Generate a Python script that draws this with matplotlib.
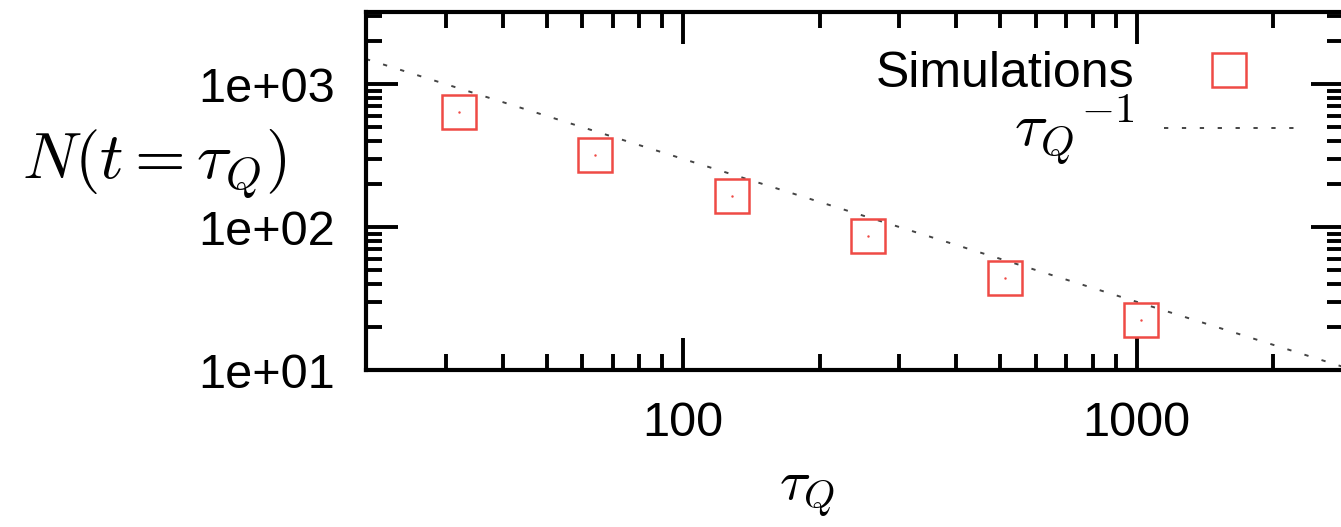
import matplotlib
matplotlib.use("Agg")
import matplotlib.pyplot as plt
from matplotlib.ticker import FixedLocator, FixedFormatter, NullFormatter, LogLocator

# ---- data ----
tau_q = [32, 64, 128, 256, 512, 1024]
n_sim = [640, 320, 165, 86, 44, 22.5]
guide_x = [20, 3000]
guide_y = [1500, 10]
yticks = [10, 100, 1000]
ytick_labels = ["1e+01", "1e+02", "1e+03"]
xticks = [100, 1000]
xtick_labels = ["100", "1000"]

plt.rcParams["font.family"] = ["Liberation Sans", "DejaVu Sans"]
plt.rcParams["mathtext.fontset"] = "cm"

W, H = 1341, 527
fig = plt.figure(figsize=(W / 100, H / 100), dpi=100)
left, right, bottom, top = 366, 1343, 370, 12
ax = fig.add_axes([left / W, 1 - bottom / H, (right - left) / W, (bottom - top) / H])
ax.set_xscale("log")
ax.set_yscale("log")
ax.set_xlim(20, 2850)
ax.set_ylim(10, 3200)

red = "#ef4a45"
ax.plot(guide_x, guide_y, color="#444444", lw=1.4, ls=(0, (2.2, 7.0)),
        label=r"$\tau_Q{}^{-1}$", zorder=2)
ax.plot(tau_q, n_sim, ls="none", marker="s", ms=24, mfc="none", mec=red,
        mew=1.8, label="Simulations", zorder=3)
ax.plot(tau_q, n_sim, ls="none", marker=".", ms=1.5, color=red, zorder=3)

ax.xaxis.set_major_locator(FixedLocator(xticks))
ax.xaxis.set_major_formatter(FixedFormatter(xtick_labels))
ax.xaxis.set_minor_locator(LogLocator(base=10, subs=range(2, 10)))
ax.xaxis.set_minor_formatter(NullFormatter())
ax.yaxis.set_major_locator(FixedLocator(yticks))
ax.yaxis.set_major_formatter(FixedFormatter(ytick_labels))
ax.yaxis.set_minor_locator(LogLocator(base=10, subs=range(2, 10)))
ax.yaxis.set_minor_formatter(NullFormatter())

ax.tick_params(which="both", direction="in", top=True, right=True, width=2.8)
ax.tick_params(which="major", length=23, labelsize=35, pad=22)
ax.tick_params(which="minor", length=11.5)
for s in ax.spines.values():
    s.set_linewidth(3.0)

ax.set_xlabel(r"$\tau_Q$", fontsize=41)
ax.xaxis.set_label_coords(0.452, -0.265)
ax.set_ylabel(r"$N(t=\tau_Q)$", fontsize=47, rotation=0, ha="right", va="center")
ax.yaxis.set_label_coords(-0.081, 0.575)

h, l = ax.get_legend_handles_labels()
leg = ax.legend(h[::-1], l[::-1], loc="upper right", bbox_to_anchor=(0.95, 0.89),
                frameon=False, markerfirst=False, fontsize=36, handlelength=2.6,
                handletextpad=0.6, labelspacing=-0.12, borderpad=0, borderaxespad=0)
leg.get_texts()[1].set_fontsize(44)

fig.savefig("out.png", dpi=100)
